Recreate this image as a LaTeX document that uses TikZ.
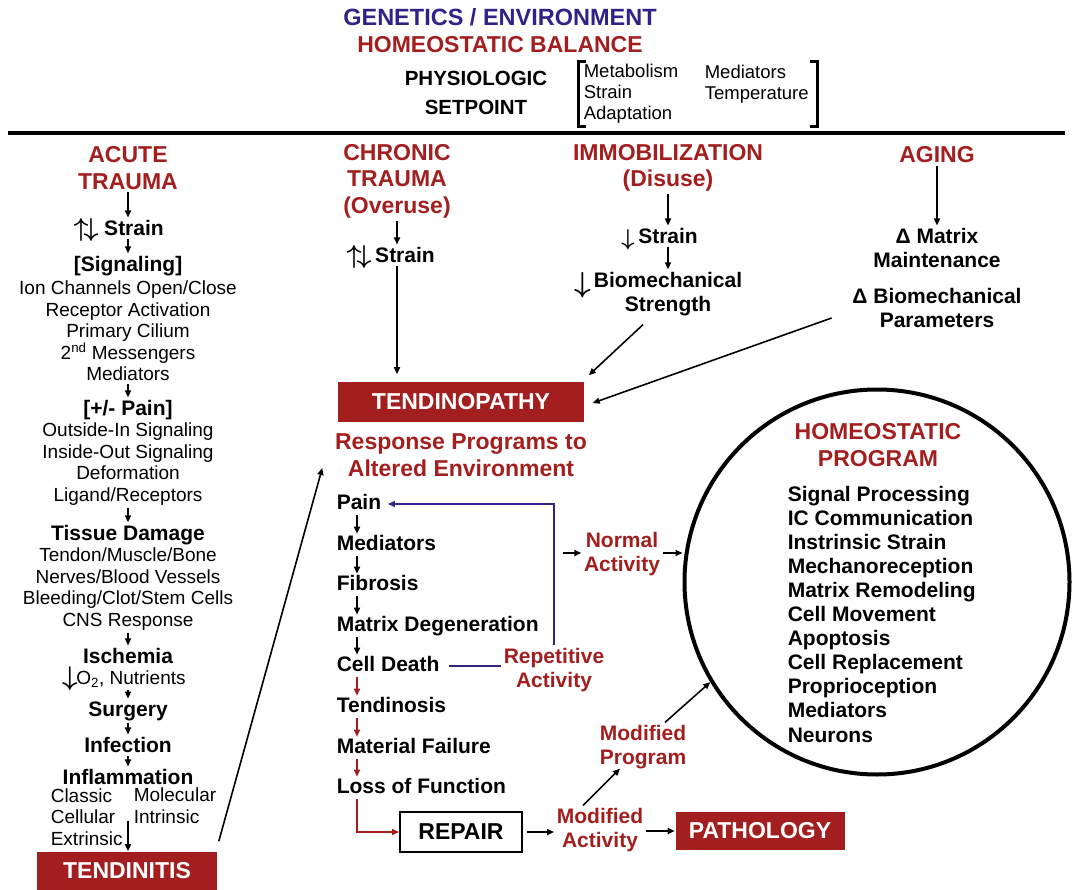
\documentclass[tikz,border=0pt]{standalone}
\usepackage{fix-cm}
\usepackage{fontspec}
\setmainfont{Liberation Sans}
\usetikzlibrary{arrows.meta,calc,positioning}
\definecolor{tred}{RGB}{163,30,30}
\definecolor{tblue}{RGB}{46,36,136}
\newcommand\fHead{\fontsize{23}{26.5}\selectfont\bfseries}
\newcommand\fLab{\fontsize{21}{24}\selectfont\bfseries}
\newcommand\fReg{\fontsize{19}{21.6}\selectfont}
\newcommand\fSet{\fontsize{18.5}{21}\selectfont}
\tikzset
{
    headtext/.style  = {text=tred, font=\fHead, align=center, inner sep=2pt},
    boldtext/.style  = {font=\fLab, align=center, inner sep=2pt},
    plaintext/.style = {font=\fReg, align=center, inner sep=2pt},
    settext/.style   = {font=\fSet, align=left, inner sep=0pt},
    glyph/.style     = {inner sep=0pt, font=\fontsize{#1}{#1}\selectfont\boldmath},
    chainstep/.style = {font=\fLab, anchor=west, inner sep=1pt, text height=15pt, text depth=4pt},
    redbox/.style    = {fill=tred, text=white, font=\fHead, inner sep=0pt},
    openbox/.style   = {draw=black, line width=2pt, fill=white, font=\fHead, inner sep=0pt},
    flow/.style      = {->, black},
    redflow/.style   = {->, tred},
    blueflow/.style  = {->, tblue}
}

\begin{document}
\begin{tikzpicture}
    [x=1pt, y=-1pt, >={Triangle[length=7pt,width=6pt]}, line width=1.6pt]
    \useasboundingbox (0,0) rectangle (1073,890);

    \node[font=\fontsize{23.5}{26}\selectfont\bfseries, text=tblue] (genetics) at (500,17) {GENETICS / ENVIRONMENT};
    \node[headtext] (balance) at (500,45) {HOMEOSTATIC BALANCE};
    \node[boldtext, font=\fontsize{20.5}{29}\selectfont\bfseries] (setpoint) at (476,93) {PHYSIOLOGIC\\SETPOINT};
    \node[settext, anchor=west] (setleft) at (583,94) {Metabolism\\Strain\\Adaptation};
    \node[settext, anchor=west] (setright) at (704,84) {Mediators\\Temperature};
    \draw[line width=3pt] (586,62) -| (578,127) -- (586,127);
    \draw[line width=3pt] (810,62) -| (817,127) -- (810,127);
    \draw[line width=4pt] (8,133) -- (1065,133);

    \node[headtext] (acute) at (128,168) {ACUTE\\TRAUMA};
    \node[boldtext] (strainA) at (134,228) {Strain};
    \node[glyph=26] (udA) at (86,230) {$\uparrow\!\downarrow$};
    \node[boldtext] (signal) at (128,266) {[Signaling]};
    \node[plaintext] (signalList) at (128,331) {Ion Channels Open/Close\\Receptor Activation\\Primary Cilium\\2\textsuperscript{nd} Messengers\\Mediators};
    \node[boldtext] (painA) at (128,410) {[+/- Pain]};
    \node[plaintext] (painList) at (128,464) {Outside-In Signaling\\Inside-Out Signaling\\Deformation\\Ligand/Receptors};
    \node[boldtext] (tissue) at (128,535) {Tissue Damage};
    \node[plaintext] (tissueList) at (128,589) {Tendon/Muscle/Bone\\Nerves/Blood Vessels\\Bleeding/Clot/Stem Cells\\CNS Response};
    \node[boldtext, inner sep=0pt] (ischemia) at (128,656) {Ischemia};
    \node[plaintext, inner sep=0pt] (nutrients) at (131,679) {O\textsubscript{2}, Nutrients};
    \node[glyph=27] (downO) at (70,679) {$\downarrow$};
    \node[boldtext] (surgery) at (128,711) {Surgery};
    \node[boldtext] (infection) at (128,745) {Infection};
    \node[boldtext] (inflam) at (128,777) {Inflammation};
    \node[plaintext, align=left, anchor=west] (inflLeft) at (48,817) {Classic\\Cellular\\Extrinsic};
    \node[plaintext, align=left, anchor=west] (inflRight) at (131,806) {Molecular\\Intrinsic};
    \coordinate (inflEnd) at (128,821);
    \node[redbox, minimum width=180pt, minimum height=38pt] (tendinitis) at (127,871) {TENDINITIS};

    \draw[flow] (acute.south) -- (acute.south |- strainA.north);
    \draw[flow] (signal.north |- strainA.south) -- (signal.north);
    \draw[flow] (signalList) -- (painA);
    \draw[flow] (painList) -- (tissue);
    \draw[flow, shorten >=2pt] (tissueList) -- (ischemia);
    \draw[flow, shorten <=2pt] (surgery.north |- nutrients.south) -- (surgery.north);
    \draw[flow] (surgery) -- (infection);
    \draw[flow] (infection) -- (inflam);
    \draw[flow] (inflEnd) -- (inflEnd |- tendinitis.north);

    \node[headtext] (chronic) at (397,181) {CHRONIC\\TRAUMA\\(Overuse)};
    \node[boldtext] (strainC) at (405,255) {Strain};
    \node[glyph=26] (udC) at (359,257) {$\uparrow\!\downarrow$};

    \node[headtext] (immob) at (668,168) {IMMOBILIZATION\\(Disuse)};
    \node[boldtext] (strainI) at (668,236) {Strain};
    \node[glyph=23] (downI) at (628,240) {$\downarrow$};
    \node[boldtext] (bioI) at (668,294) {Biomechanical\\Strength};
    \node[glyph=29] (downB) at (583,285) {$\downarrow$};

    \node[headtext] (aging) at (937,155) {AGING};
    \node[boldtext] (matrixM) at (937,248) {Δ Matrix\\Maintenance};
    \node[boldtext] (biomP) at (937,308) {Δ Biomechanical\\Parameters};

    \node[redbox, minimum width=246pt, minimum height=40pt] (tendino) at (461,402) {TENDINOPATHY};
    \node[headtext] (respond) at (461,455) {Response Programs to\\Altered Environment};

    \draw[flow] (chronic.south) -- (chronic.south |- strainC.north);
    \draw[flow, shorten >=7pt] (chronic.south |- strainC.south) -- (chronic.south |- tendino.north);
    \draw[flow] (immob) -- (strainI);
    \draw[flow] (strainI) -- (bioI);
    \draw[flow] ($(bioI.south)+(-25,6)$) -- ($(tendino.north east)+(4,-6)$);
    \draw[flow] (aging) -- (matrixM);
    \draw[flow] ($(biomP.west)+(-18,10)$) -- ($(tendino.east)+(8,1)$);
    \draw[flow] ($(tendinitis.north east)+(1,-10)$) -- ($(respond.west)+(-10,13)$);

    \node[chainstep] (pain) at (335,504) {Pain};
    \node[chainstep] (medi) at (335,545) {Mediators};
    \node[chainstep] (fibro) at (335,585) {Fibrosis};
    \node[chainstep] (matrixD) at (335,626) {Matrix Degeneration};
    \node[chainstep] (death) at (335,666) {Cell Death};
    \node[chainstep] (tendinosis) at (335,707) {Tendinosis};
    \node[chainstep] (failure) at (335,748) {Material Failure};
    \node[chainstep] (loss) at (335,788) {Loss of Function};
    \foreach \a/\b in {pain/medi,medi/fibro,fibro/matrixD,matrixD/death}
        \draw[flow] ($(\a.south west)+(22,0)$) -- ($(\b.north west)+(22,0)$);
    \foreach \a/\b in {death/tendinosis,tendinosis/failure,failure/loss}
        \draw[redflow] ($(\a.south west)+(22,0)$) -- ($(\b.north west)+(22,0)$);

    \node[headtext, font=\fLab] (repetitive) at (554,670) {Repetitive\\Activity};
    \draw[tblue, shorten <=8pt] (death.east) -- (death.east -| repetitive.west);
    \draw[blueflow, shorten >=5pt] (repetitive.north) |- (pain.east);

    \node[circle, draw, line width=4pt, minimum size=385pt, inner sep=0pt] (circ) at (877,582) {};
    \node[headtext] (homeoTitle) at (878,445) {HOMEOSTATIC\\PROGRAM};
    \node[boldtext, align=left, anchor=west, font=\fontsize{21}{24.1}\selectfont\bfseries] (homeoList) at (785,614) {Signal Processing\\IC Communication\\Instrinsic Strain\\Mechanoreception\\Matrix Remodeling\\Cell Movement\\Apoptosis\\Cell Replacement\\Proprioception\\Mediators\\Neurons};

    \node[headtext, font=\fLab] (normal) at (622,554) {Normal\\Activity};
    \coordinate (branch) at (563,553);
    \draw[flow] (branch) -- (branch -| normal.west);
    \draw[flow] (normal.east |- branch) -- (branch -| circ.west);

    \node[openbox, minimum width=122pt, minimum height=40pt] (repair) at (461,832) {REPAIR};
    \node[headtext, font=\fLab] (modAct) at (600,830) {Modified\\Activity};
    \node[redbox, minimum width=169pt, minimum height=38pt] (patho) at (760,831) {PATHOLOGY};
    \node[headtext, font=\fLab] (modProg) at (643,747) {Modified\\Program};
    \draw[redflow] ($(loss.south west)+(22,0)$) |- (repair.west);
    \draw[flow, shorten <=4pt] (repair.east) -- (modAct.west |- repair.east);
    \draw[flow] (modAct.east |- patho.west) -- (patho.west);
    \draw[flow] ($(modAct.north)+(-17,0)$) -- ($(modProg.south)+(-23,-3)$);
    \draw[flow] ($(modProg.north)+(22,0)$) -- (circ.211);
\end{tikzpicture}
\end{document}
